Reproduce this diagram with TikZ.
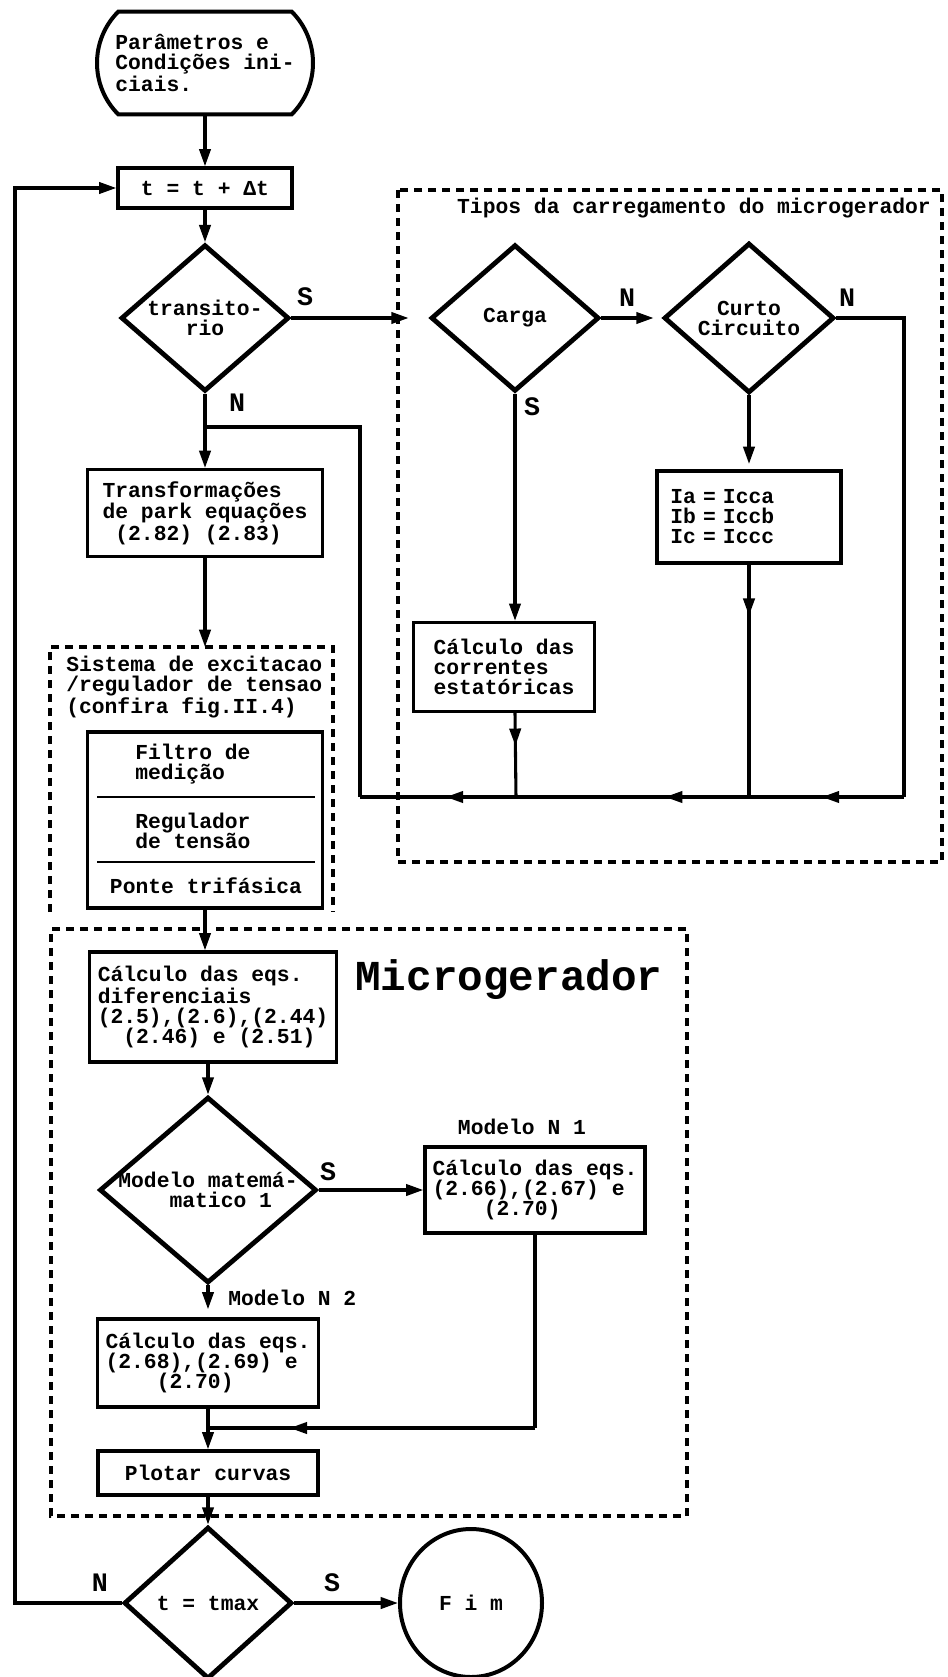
\documentclass[tikz,border=0pt]{standalone}
\usepackage{fontspec}
\setmonofont{Liberation Mono}
\usepackage{tikz}
\usetikzlibrary{arrows.meta,shapes.geometric,shapes.misc,decorations.markings,calc,positioning}

\tikzset{
  caixa/.style={draw, line width=2.5pt, inner sep=0pt, align=left},
  decisao/.style={draw, diamond, line width=3.6pt, inner sep=0pt, aspect=1.15, align=center},
  seta/.style={line width=2.3pt, -{Triangle[length=13pt,width=8.5pt]}},
  linha/.style={line width=2.3pt},
  tracejado/.style={line width=2.4pt, dash pattern=on 6pt off 4.5pt},
  setaem/.style={postaction=decorate, decoration={markings, mark=at position #1 with {\arrow{Triangle[length=13pt,width=8.5pt]}}}},
  rotulo/.style={font=\ttfamily\bfseries\fontsize{20}{20}\selectfont, inner sep=0pt},
}

\begin{document}
\begin{tikzpicture}[x=0.75pt,y=0.75pt,yscale=-1,xscale=1,
  every node/.style={font=\ttfamily\bfseries\fontsize{16}{15}\selectfont}]
\useasboundingbox (0,0) rectangle (948,1677);

%Flowchart: Terminator
\node (inicio) [draw, rounded rectangle, rounded rectangle arc length=90, line width=3pt, minimum width=162pt, minimum height=77pt, inner sep=0pt, align=left] at (205,63) {Parâmetros e\\Condições ini-\\ciais.};
%Flowchart: Process
\node (passo) [caixa, minimum width=130.5pt, minimum height=30pt] at (205,188) {t = t + Δt};
%Flowchart: Decision
\node (transit) [decisao, minimum width=126pt, minimum height=110pt] at (205,318) {transito-\\rio};
%Flowchart: Process
\node (transf) [caixa, minimum width=176pt, minimum height=65pt] at (205,513) {Transformações\\de park equações\\\phantom{x}(2.82) (2.83)};

% Tipos de carregamento
\node (tipostit) [inner sep=0pt] at (694,208) {Tipos da carregamento do microgerador};
\node (carga) [decisao, minimum width=126pt, minimum height=110pt] at (515,318) {Carga};
\node (curto) [decisao, minimum width=127.5pt, minimum height=112.5pt] at (749,318) {Curto\\Circuito};
\node (curtoI) [caixa, text width=118pt, inner xsep=10pt, minimum height=69pt] at (749,517) {Ia = Icca\\Ib = Iccb\\Ic = Iccc};
\node (correntes) [caixa, minimum width=135.75pt, minimum height=66.75pt] at (504,667) {Cálculo das\\correntes\\estatóricas};

% Sistema de excitacao
\node (sistit) [anchor=north west, inner sep=0pt, align=left] at (66,656) {Sistema de excitacao\\/regulador de tensao\\(confira fig.II.4)};
\node (sisbox) [caixa, minimum width=176pt, minimum height=132pt] at (205,820) {};
\node (filtro) [anchor=west, inner sep=0pt, align=left] at (135,764) {Filtro de\\medição};
\node (regul) [anchor=west, inner sep=0pt, align=left] at (135,831) {Regulador\\de tensão};
\node (ponte) [inner sep=0pt] at (206,886) {Ponte trifásica};
\draw [line width=1.8pt] (97,797) -- (315,797) ;
\draw [line width=1.8pt] (97,862) -- (315,862) ;

% Microgerador
\node (microtit) [font=\ttfamily\bfseries\fontsize{32}{32}\selectfont, inner sep=0pt] at (509,980) {Microgerador};
\node (difer) [caixa, minimum width=185pt, minimum height=82.5pt] at (213,1007) {Cálculo das eqs.\\diferenciais\\(2.5),(2.6),(2.44)\\\phantom{xx}(2.46) e (2.51)};
\node (modelo) [decisao, inner sep=-4pt, align=left, minimum width=162.75pt, minimum height=139.5pt] at (208,1190) {Modelo matemá-\\\phantom{xxxx}matico 1};
\node (rotmod1) [inner sep=0pt] at (522,1127) {Modelo N 1};
\node (modelo1) [caixa, minimum width=165pt, minimum height=64.5pt] at (535,1190) {Cálculo das eqs.\\(2.66),(2.67) e\\\phantom{xxxx}(2.70)};
\node (rotmod2) [anchor=west, inner sep=0pt] at (228,1298) {Modelo N 2};
\node (modelo2) [caixa, minimum width=165.75pt, minimum height=66pt] at (208,1363) {Cálculo das eqs.\\(2.68),(2.69) e\\\phantom{xxxx}(2.70)};
\node (plotar) [caixa, minimum width=165pt, minimum height=33pt] at (208,1473) {Plotar curvas};

%Flowchart: Decision
\node (tmax) [decisao, minimum width=126pt, minimum height=114pt] at (208,1603) {t = tmax};
%Flowchart: Connector
\node (fim) [draw, ellipse, line width=3pt, minimum width=106.5pt, minimum height=111pt, inner sep=0pt] at (471,1603) {F i m};

% Text Node
\node (sT) [rotulo] at (305,297) {S};
\node (nT) [rotulo] at (237,403) {N};
\node (nC) [rotulo] at (627,298) {N};
\node (sC) [rotulo] at (532,407) {S};
\node (nCC) [rotulo] at (847,298) {N};
\node (sM) [rotulo] at (328,1172) {S};
\node (nF) [rotulo] at (100,1583) {N};
\node (sF) [rotulo] at (332,1583) {S};

\coordinate (retR) at (904,797);
\coordinate (retL) at (360,797);
\coordinate (retT) at (360,427);
\coordinate (juncao) at (205,427);
\coordinate (jCorr) at (516,797);
\coordinate (jCurto) at (749,797);
\coordinate (voltaB) at (15,1603);
\coordinate (voltaT) at (15,188);
\coordinate (sisTop) at (205,647);
\coordinate (quina) at (535,1428);
\coordinate (jPlot) at (208,1428);

%Dashed boxes
\draw [tracejado] (398,190) rectangle (942,862) ;
\draw [tracejado] (50,912) -- (50,647) -- (333,647) -- (333,912) ;
\draw [tracejado] (200,929) -- (51,929) -- (51,1516) -- (687,1516) -- (687,929) -- (216,929) ;

%Straight Lines
\draw [seta] (inicio.south) -- (passo.north) ;
\draw [seta] (passo.south) -- (transit.north) ;
\draw [seta, shorten >=15pt] (transit.east) -- (carga.west) ;
\draw [seta] (transit.south) -- (transf.north) ;
\draw [seta] (transf.south) -- (sisTop) ;
\draw [seta] (sisbox.south) -- (sisbox.south |- difer.north) ;
\draw [seta] (modelo.north |- difer.south) -- (modelo.north) ;
\draw [seta] (modelo.east) -- (modelo1.west) ;
\draw [seta, shorten >=6pt] (modelo.south) -- (modelo2.north) ;
\draw [linha] (modelo1.south) -- (quina) ;
\draw [linha, setaem=0.75] (quina) -- (jPlot) ;
\draw [seta] (modelo2.south) -- (plotar.north) ;
\draw [seta] (plotar.south) -- (tmax.north) ;
\draw [seta] (tmax.east) -- (fim.west) ;
\draw [seta] (tmax.west) -- (voltaB) -- (voltaT) -- (passo.west) ;

\draw [seta, shorten >=6pt] (carga.east) -- (curto.west) ;
\draw [seta] (carga.south) -- (carga.south |- correntes.north) ;
\draw [seta, shorten >=4pt] (curto.south) -- (curtoI.north) ;
\draw [linha, setaem=0.39] (carga.south |- correntes.south) -- (jCorr) ;
\draw [linha, setaem=0.22] (curtoI.south) -- (jCurto) ;
\draw [linha] (curto.east) -| (retR) ;
\draw [linha, setaem=0.53] (retR) -- (jCurto) ;
\draw [linha, setaem=0.36] (jCurto) -- (jCorr) ;
\draw [linha, setaem=0.45] (jCorr) -- (retL) ;
\draw [linha] (retL) -- (retT) -- (juncao) ;

\end{tikzpicture}
\end{document}
